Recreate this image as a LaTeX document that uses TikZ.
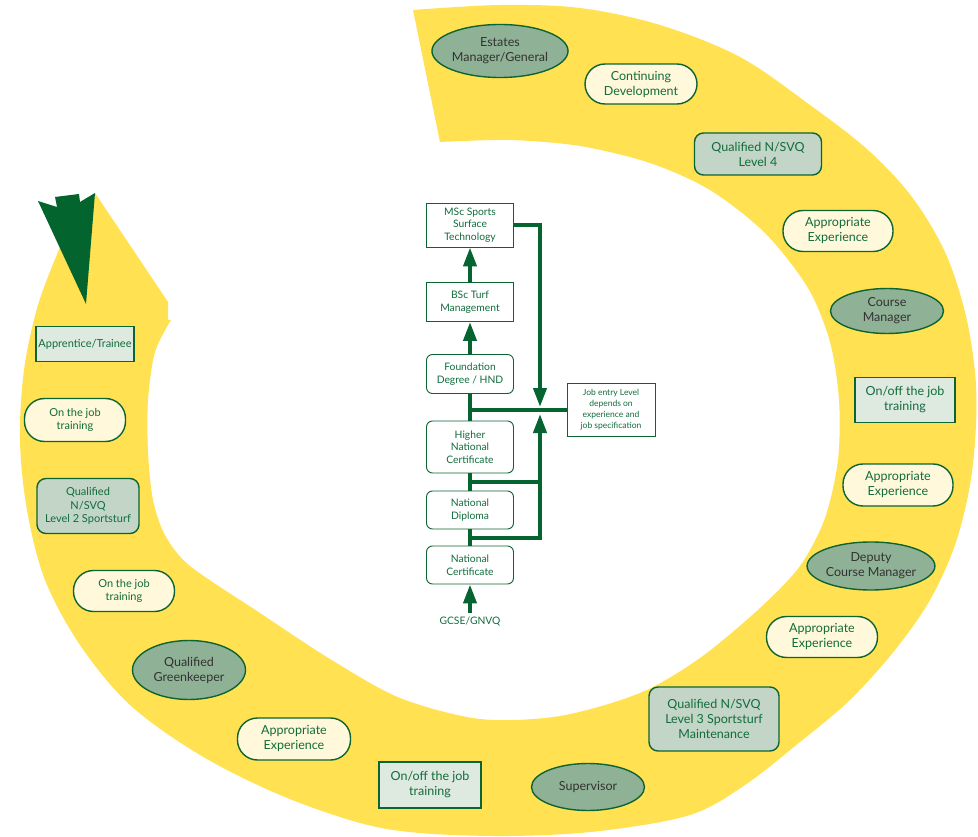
\documentclass[tikz,border=0pt]{standalone}
\usepackage{fontspec}
\setmainfont{Lato}
\usetikzlibrary{shapes.geometric,arrows.meta}

\definecolor{ringyellow}{RGB}{255,225,82}
\definecolor{arrowgreen}{RGB}{3,100,45}
\definecolor{linegreen}{RGB}{5,100,48}
\definecolor{nodegreen}{RGB}{12,100,50}
\definecolor{textgreen}{RGB}{18,108,60}
\definecolor{textgray}{RGB}{50,50,50}
\definecolor{postfill}{RGB}{143,178,150}
\definecolor{qualfill}{RGB}{194,213,198}
\definecolor{trainfill}{RGB}{222,233,224}
\definecolor{pillfill}{RGB}{255,248,218}

\tikzset{
  ring/.style={draw=nodegreen, line width=1.4pt, align=center, inner sep=0pt,
    text=textgreen, font=\fontsize{12.5}{15}\selectfont},
  small/.style={font=\fontsize{11}{13.5}\selectfont},
  post/.style={ring, ellipse, fill=postfill, text=textgray,
    minimum width=113pt, minimum height=47pt},
  pill/.style={ring, rounded corners=20pt, fill=pillfill,
    minimum width=111pt, minimum height=41pt},
  qual/.style={ring, rounded corners=9pt, fill=qualfill},
  train/.style={ring, fill=trainfill, minimum width=101pt, minimum height=45pt},
  course/.style={draw=nodegreen, line width=0.9pt, fill=white, align=center,
    inner sep=0pt, text=textgreen, font=\fontsize{10.3}{12.5}\selectfont,
    minimum width=87pt},
  coursero/.style={course, rounded corners=6pt},
  link/.style={draw=linegreen, line width=4pt},
  uplink/.style={link, -{Triangle[width=13pt,length=19pt]}},
}

\begin{document}
\begin{tikzpicture}[x=1pt, y=-1pt]
  \useasboundingbox (0,0) rectangle (978,837);

  % ---------------------------------------------
  % yellow spiral band
  \fill[ringyellow] (413,10)
    -- plot[smooth, tension=0.55] coordinates {(413,10) (500,5) (580,8) (660,25)
       (740,57) (810,105) (868,150) (912,197) (945,252) (965,312) (975,372)
       (976,425) (970,485) (955,545) (930,600) (895,650) (850,700) (800,742)
       (745,785) (690,815) (600,831) (510,836) (420,833) (360,823) (280,795)
       (200,755) (130,705) (80,645) (45,580) (27,510) (20,440) (24,370)
       (38,305) (60,247)}
    -- (95,193) -- (168,302) -- (168,320) -- (171,320)
    -- plot[smooth, tension=0.5] coordinates {(171,320) (155,352) (148,400)
       (148,452) (153,500) (165,535) (190,566) (260,613) (330,659) (400,698)
       (480,719) (560,716) (640,693) (700,658) (760,608) (800,566) (825,518)
       (838,460) (839,400) (830,342) (808,288) (765,233) (710,190) (650,163)
       (580,146) (510,140) (440,142)}
    -- cycle;

  % arrow head at the end of the band
  \fill[arrowgreen] (38,201) -- (57,207) -- (55,197) -- (79,194) -- (80,202)
    -- (95,193) -- (86,304) -- cycle;

  % ---------------------------------------------
  % career steps round the band
  \node[post, minimum width=130pt, minimum height=53pt] (estates) at (500,51) {Estates\\Manager/General};
  \node[pill, minimum width=112pt, minimum height=40pt] (contdev) at (641,84) {Continuing\\Development};
  \node[qual, minimum width=127pt, minimum height=42pt] (nvqfour) at (758,154) {Qualified N/SVQ\\Level 4};
  \node[pill, minimum width=110pt] (exptop) at (838,231) {Appropriate\\Experience};
  \node[post, minimum height=45pt] (coursemgr) at (887,311) {Course\\Manager};
  \node[train, minimum width=100pt] (onoffright) at (905,400) {On/off the job\\training};
  \node[pill, minimum width=110pt, minimum height=42pt] (expmid) at (898,485) {Appropriate\\Experience};
  \node[post, minimum height=48pt] (deputy) at (871,566) {Deputy\\Course Manager};
  \node[pill] (explow) at (822,637) {Appropriate\\Experience};
  \node[qual, minimum width=130pt, minimum height=64pt] (nvqthree) at (714,719) {Qualified N/SVQ\\Level 3 Sportsturf\\Maintenance};
  \node[post] (supervisor) at (588,787) {Supervisor};
  \node[train, minimum width=102pt, minimum height=46pt] (onoffbottom) at (430,785) {On/off the job\\training};
  \node[pill, minimum width=113pt, minimum height=42pt] (expbottom) at (294,739) {Appropriate\\Experience};
  \node[post, minimum height=59pt] (greenkeeper) at (189,670) {Qualified\\Greenkeeper};
  \node[pill, small, minimum width=101pt] (jobtwo) at (124,591) {On the job\\training};
  \node[qual, small, minimum width=102pt, minimum height=55pt] (nvqtwo) at (88,506) {Qualified\\N/SVQ\\Level 2 Sportsturf};
  \node[pill, small, minimum width=101pt, minimum height=43pt] (jobone) at (75,420) {On the job\\training};
  \node[train, small, minimum width=98pt, minimum height=35pt] (apprentice) at (85,344) {Apprentice/Trainee};

  % ---------------------------------------------
  % courses in the middle
  \node[course, minimum height=44pt] (msc) at (470,225) {MSc Sports\\Surface\\Technology};
  \node[course, minimum height=39pt] (bsc) at (470,302) {BSc Turf\\Management};
  \node[coursero, minimum height=39pt] (fd) at (470,374) {Foundation\\Degree / HND};
  \node[coursero, minimum height=52pt] (hnc) at (470,447) {Higher\\National\\Certificate};
  \node[coursero, minimum height=38pt] (nd) at (470,510) {National\\Diploma};
  \node[coursero, minimum height=38pt] (nc) at (470,565) {National\\Certificate};
  \node[text=textgreen, font=\fontsize{10.3}{12.5}\selectfont] (gcse) at (470,621) {GCSE/GNVQ};
  \node[course, font=\fontsize{8.5}{11}\selectfont, minimum width=88pt,
    minimum height=53pt] (job) at (611,410) {Job entry Level\\depends on\\experience and\\job specification};

  % junction points
  \coordinate (jtop) at (540,407);
  \coordinate (jbot) at (540,414);
  \coordinate (hncnd) at (470,482);
  \coordinate (ndnc) at (470,538);

  % draw links
  \draw[uplink] (bsc) -- (msc);
  \draw[uplink] (fd) -- (bsc);
  \draw[uplink] (msc.east) -| (jtop);
  \draw[link] (fd.south) -- (hnc.north);
  \draw[link] (fd.south |- job.west) -- (job.west);
  \draw[link] (hnc.south) -- (nd.north);
  \draw[link] (nd.south) -- (nc.north);
  \draw[link] (hncnd) -- (hncnd -| jbot);
  \draw[uplink] (ndnc) -| (jbot);
  \draw[uplink] (gcse.north) -- (nc.south);

\end{tikzpicture}
\end{document}
